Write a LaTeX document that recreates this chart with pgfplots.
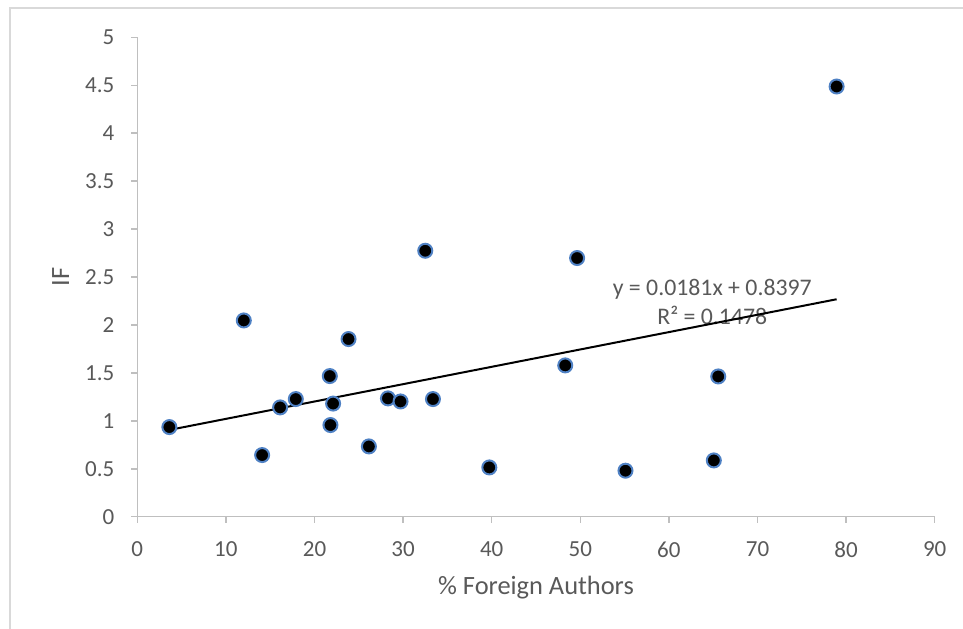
\documentclass[border=0pt]{standalone}
\usepackage{fontspec}
\setmainfont{Carlito}
\usepackage{pgfplots}
\pgfplotsset{compat=1.18}
\definecolor{txt}{HTML}{595959}
\definecolor{axl}{HTML}{BFBFBF}
\definecolor{brd}{HTML}{D9D9D9}
\definecolor{mk}{HTML}{4F81C4}
\begin{document}
\begin{tikzpicture}
\useasboundingbox (-68.65pt,-55.65pt) rectangle (412.85pt,258.35pt);
\draw[brd, line width=0.75pt] (-63.65pt,-70pt) -- (-63.65pt,254.35pt) -- (430pt,254.35pt);
\begin{axis}[
  at={(0,0)}, anchor=south west,
  scale only axis, width=398.7pt, height=239.7pt,
  xmin=0, xmax=90, ymin=0, ymax=5,
  xtick={0,10,...,90}, ytick={0,0.5,1,1.5,2,2.5,3,3.5,4,4.5,5},
  axis lines*=left,
  axis line style={axl, line width=0.75pt},
  tick style={axl, line width=0.75pt},
  tick align=outside, major tick length=3pt,
  ticklabel style={txt, font=\fontsize{11.5}{13}\selectfont},
  /pgf/number format/assume math mode=true,
  yticklabel style={/pgf/number format/fixed},
  xticklabel shift=6pt,
  yticklabel shift=5pt,
  xlabel={\% Foreign Authors}, ylabel={IF},
  label style={txt, font=\fontsize{13.2}{15}\selectfont},
  xlabel style={at={(axis description cs:0.5,0)}, anchor=center, yshift=-35.65pt},
  ylabel style={at={(axis description cs:0,0.5)}, anchor=center, yshift=38.3pt},
  clip=false,
]
\addplot[only marks, mark=*, mark size=3.5pt, mark options={fill=black, draw=mk, line width=1pt}] table {
x y
3.62 0.935
12.02 2.047
14.09 0.643
16.12 1.140
17.89 1.227
21.73 1.467
21.80 0.956
22.10 1.180
23.84 1.853
26.14 0.733
28.29 1.234
29.71 1.202
32.50 2.774
33.37 1.227
39.73 0.514
48.30 1.578
49.64 2.698
55.10 0.480
65.07 0.587
65.57 1.463
78.93 4.487
};
\node[txt, font=\fontsize{11.9}{14.65}\selectfont, align=center] at (axis cs:64.9,2.243) {y = 0.0181x + 0.8397\\R² = 0.1478};
\addplot[black, line width=1pt] coordinates {(3.62,0.905) (78.93,2.268)};
\end{axis}
\end{tikzpicture}
\end{document}
